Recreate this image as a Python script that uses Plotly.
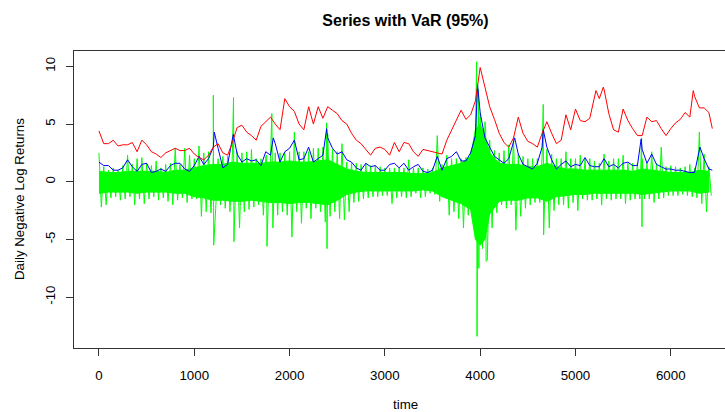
import plotly.graph_objects as go

grid_t = list(range(0, 6401, 50))

red_v = [
    4.4, 3.3, 3.3, 3.6, 3.1, 3.2, 3.2, 3.4, 2.6, 3.6,
    3.2, 2.6, 2.4, 2.1, 2.5, 2.7, 2.9, 2.7, 2.7, 2.9,
    2.4, 2.1, 1.9, 2.3, 3.0, 3.3, 2.5, 2.3, 3.4, 4.7,
    4.9, 4.3, 4.0, 3.6, 4.8, 5.2, 5.6, 5.0, 4.5, 7.2,
    6.5, 6.1, 5.0, 4.5, 6.5, 5.0, 6.5, 5.5, 6.5, 6.2,
    5.9, 5.3, 5.0, 4.2, 3.6, 3.3, 2.8, 2.3, 2.9, 3.0,
    2.8, 2.3, 3.4, 2.6, 3.4, 3.3, 2.6, 2.2, 2.8, 2.7,
    2.6, 2.5, 2.4, 3.6, 4.5, 5.4, 6.2, 5.4, 5.8, 7.0,
    9.9, 8.2, 6.5, 5.4, 4.2, 3.4, 3.0, 3.8, 5.6, 4.2,
    3.5, 3.3, 3.0, 4.2, 5.2, 4.2, 3.3, 3.6, 5.8, 4.5,
    6.3, 5.3, 5.2, 5.5, 7.4, 7.2, 8.0, 5.9, 4.5, 4.3,
    6.3, 5.3, 4.6, 4.0, 4.0, 5.6, 5.2, 5.3, 4.6, 4.0,
    4.6, 5.1, 5.4, 6.0, 5.6, 7.4, 6.4, 6.4, 6.0,
]
red_extra_t = [5215, 5292, 6236, 6436]
red_extra_v = [7.9, 8.2, 7.9, 4.6]

blue_v = [
    1.7, 1.4, 1.4, 1.0, 1.0, 1.2, 1.9, 1.3, 0.9, 1.5,
    1.6, 0.8, 0.9, 1.1, 0.9, 1.4, 1.6, 1.6, 1.1, 0.9,
    1.4, 2.2, 1.5, 2.0, 3.0, 2.9, 1.2, 1.5, 3.5, 2.4,
    1.7, 2.0, 1.8, 1.9, 1.4, 2.6, 2.3, 3.3, 1.7, 2.6,
    2.9, 3.6, 1.9, 2.0, 3.0, 1.7, 2.0, 2.3, 3.8, 2.9,
    2.4, 2.6, 1.9, 1.7, 1.2, 1.0, 1.6, 1.3, 1.4, 1.0,
    1.0, 1.5, 1.6, 1.2, 1.6, 1.0, 1.3, 1.5, 0.9, 0.8,
    1.0, 2.2, 1.0, 2.0, 2.2, 2.6, 1.8, 1.8, 2.5, 4.0,
    6.0, 3.8, 3.0, 2.2, 1.9, 1.6, 2.0, 3.5, 2.4, 1.5,
    1.3, 1.1, 1.6, 3.0, 3.0, 1.9, 1.1, 1.5, 1.8, 1.3,
    1.5, 1.4, 2.1, 1.4, 1.3, 1.3, 2.0, 1.3, 1.5, 1.2,
    1.6, 1.7, 1.4, 1.4, 2.8, 1.6, 2.4, 1.5, 1.3, 1.1,
    1.1, 1.0, 1.0, 0.9, 0.8, 0.8, 2.8, 2.0, 1.1,
]
blue_extra_t = [1210, 1409, 1829, 2389, 3973, 4362, 4662, 5689, 6306, 6436]
blue_extra_v = [4.3, 4.1, 3.8, 4.6, 8.4, 3.8, 4.5, 3.7, 3.0, 1.0]

# extremes of the green returns around each grid point
green_hi = [
    2.5, 1.3, 1.0, 1.2, 1.0, 1.4, 2.3, 1.5, 2.0, 2.1,
    1.6, 1.4, 1.8, 1.2, 1.5, 1.6, 2.9, 1.5, 2.9, 2.3,
    2.0, 3.1, 2.5, 2.6, 2.3, 2.0, 2.2, 2.2, 2.4, 2.6,
    2.5, 2.6, 2.8, 2.0, 2.0, 2.2, 2.0, 2.5, 2.5, 2.5,
    2.6, 4.3, 2.6, 2.6, 2.6, 2.9, 2.9, 3.0, 4.1, 2.8,
    2.6, 3.3, 1.7, 1.6, 1.6, 1.5, 1.6, 1.4, 1.4, 1.3,
    1.2, 1.2, 1.2, 1.2, 1.2, 1.9, 1.2, 1.2, 1.2, 1.1,
    1.2, 4.0, 1.5, 2.3, 2.0, 2.0, 2.0, 2.1, 2.6, 4.3,
    6.0, 5.2, 3.6, 2.7, 2.5, 2.7, 3.2, 3.9, 2.4, 2.2,
    2.0, 2.0, 2.0, 2.3, 2.8, 2.4, 2.0, 2.0, 2.6, 2.0,
    2.0, 2.3, 2.0, 2.0, 1.8, 1.6, 2.4, 1.8, 2.0, 2.0,
    2.3, 1.6, 1.6, 1.6, 2.0, 1.6, 2.6, 1.6, 3.0, 1.3,
    1.4, 1.3, 1.2, 1.3, 1.5, 1.2, 4.3, 2.4, 1.3,
]
green_lo = [
    -2.2, -2.0, -1.4, -1.3, -1.6, -1.5, -1.3, -2.0, -1.5, -1.9,
    -1.5, -1.3, -1.6, -1.4, -1.7, -2.0, -1.6, -1.4, -1.8, -1.5,
    -1.5, -3.0, -2.6, -2.7, -2.3, -2.0, -2.3, -2.6, -2.6, -4.0,
    -2.6, -2.4, -2.2, -2.0, -2.9, -2.0, -4.0, -2.9, -2.6, -2.9,
    -4.8, -2.6, -3.6, -2.3, -3.2, -2.3, -2.6, -3.5, -3.0, -2.6,
    -3.2, -3.3, -2.6, -1.8, -1.7, -1.5, -1.4, -1.3, -1.3, -1.2,
    -1.2, -1.9, -1.4, -1.3, -1.4, -1.3, -1.0, -1.4, -1.3, -1.0,
    -1.1, -1.7, -1.2, -2.9, -2.6, -3.2, -4.0, -2.9, -3.5, -4.6,
    -5.8, -6.8, -4.0, -2.7, -2.0, -2.3, -2.0, -4.2, -3.0, -2.3,
    -2.0, -1.8, -1.8, -2.0, -4.0, -2.5, -2.0, -2.0, -2.3, -1.8,
    -2.5, -1.5, -1.6, -1.6, -1.5, -2.0, -1.5, -1.6, -1.5, -1.5,
    -1.9, -1.6, -1.5, -1.5, -1.5, -1.5, -1.8, -1.5, -1.4, -1.2,
    -1.2, -1.2, -1.1, -1.2, -1.3, -1.4, -1.9, -2.6, -1.2,
]
spike_t = [1200, 1412, 1759, 1814, 2389, 3963, 3982, 4058, 4662, 5694]
spike_hi = [7.5, 7.3, 2.3, 5.9, 5.1, 10.4, 8.0, 4.5, 6.7, 3.8]
spike_lo = [-5.5, -5.2, -5.6, -2.5, -5.8, -13.4, -7.5, -6.9, -4.6, -3.9]

# solid (densely covered) core of the green band, every 100 observations
core_t = list(range(0, 6401, 100))
core_hi = [
    0.9, 0.8, 0.8, 0.9, 0.9, 0.9, 0.9, 0.8, 1.0, 1.0,
    1.2, 1.4, 1.5, 1.5, 1.7, 1.6, 1.6, 1.6, 1.7, 1.7,
    1.8, 1.7, 1.7, 1.8, 1.9, 1.5, 1.1, 0.9, 0.8, 0.8,
    0.8, 0.8, 0.8, 0.7, 0.7, 0.8, 1.2, 1.4, 1.6, 2.2,
    5.0, 2.5, 1.6, 1.5, 1.5, 1.3, 1.3, 1.6, 1.3, 1.1,
    1.1, 1.0, 1.0, 1.0, 1.0, 1.0, 0.9, 1.1, 1.0, 0.9,
    0.8, 0.8, 0.8, 1.0, 0.9,
]
core_lo = [
    -1.0, -0.9, -0.9, -0.9, -1.0, -0.9, -0.9, -0.9, -1.0, -1.0,
    -1.3, -1.4, -1.6, -1.6, -1.7, -1.7, -1.6, -1.7, -1.8, -1.8,
    -1.9, -1.8, -1.8, -1.9, -2.0, -1.6, -1.1, -0.9, -0.8, -0.8,
    -0.8, -0.8, -0.8, -0.8, -0.7, -0.8, -1.3, -1.6, -1.9, -2.4,
    -5.5, -2.8, -1.7, -1.6, -1.6, -1.4, -1.4, -1.7, -1.3, -1.2,
    -1.1, -1.1, -1.0, -1.0, -1.0, -1.0, -1.0, -1.1, -1.0, -0.9,
    -0.8, -0.8, -0.8, -1.0, -0.9,
]
core_extra_t = [3950, 4050]
core_extra_hi = [4.5, 4.0]
core_extra_lo = [-5.0, -5.0]

x_ticks = [0, 1000, 2000, 3000, 4000, 5000, 6000]
y_ticks = [-10, -5, 0, 5, 10]


def merged(ts, vs, ets, evs):
    pts = sorted(list(zip(ts, vs)) + list(zip(ets, evs)))
    return [p[0] for p in pts], [p[1] for p in pts]


red_x, red_y = merged(grid_t, red_v, red_extra_t, red_extra_v)
blue_x, blue_y = merged(grid_t, blue_v, blue_extra_t, blue_extra_v)
cu_x, cu_y = merged(core_t, core_hi, core_extra_t, core_extra_hi)
cl_x, cl_y = merged(core_t, core_lo, core_extra_t, core_extra_lo)

# green: dense oscillating series drawn as alternating high / low readings
g_pts = []
for t, h, l in zip(grid_t, green_hi, green_lo):
    g_pts.append((t, h))
    g_pts.append((t + 25, l))
for t, h, l in zip(spike_t, spike_hi, spike_lo):
    g_pts.append((t, h))
    g_pts.append((t + 4, l))
g_pts.sort()
green_x = [p[0] for p in g_pts]
green_y = [p[1] for p in g_pts]

band_x = cu_x + cl_x[::-1]
band_y = cu_y + cl_y[::-1]

FONT = "Liberation Sans, Arial, sans-serif"

fig = go.Figure()
fig.add_trace(go.Scatter(x=band_x, y=band_y, mode="lines", fill="toself",
                         fillcolor="#00FF00",
                         line=dict(color="#00FF00", width=1)))
fig.add_trace(go.Scatter(x=green_x, y=green_y, mode="lines",
                         line=dict(color="#00FF00", width=1)))
fig.add_trace(go.Scatter(x=blue_x, y=blue_y, mode="lines",
                         line=dict(color="#0000FF", width=1)))
fig.add_trace(go.Scatter(x=red_x, y=red_y, mode="lines",
                         line=dict(color="#FF0000", width=1)))

fig.update_layout(
    width=725, height=412,
    margin=dict(l=74, r=0, t=51, b=64),
    paper_bgcolor="white", plot_bgcolor="white",
    showlegend=False,
    font=dict(family=FONT, size=13.3, color="black"),
    title=dict(text="<b>Series with VaR (95%)</b>",
               font=dict(family=FONT, size=16, color="black"),
               x=405.5 / 725, xref="container", xanchor="center",
               y=1 - 20 / 412, yref="container", yanchor="middle"),
    xaxis=dict(range=[-262, 6569], tickvals=x_ticks,
               ticktext=[str(v) for v in x_ticks],
               ticks="outside", ticklen=7, tickcolor="#333",
               showline=True, linecolor="#333", linewidth=1, mirror=True,
               showgrid=False, zeroline=False, ticklabelstandoff=8,
               tickfont=dict(family=FONT, size=13.3, color="black")),
    yaxis=dict(range=[-14.41, 11.33], tickvals=y_ticks,
               ticktext=[str(v) for v in y_ticks],
               ticks="outside", ticklen=7, tickcolor="#333",
               showline=True, linecolor="#333", linewidth=1,
               showgrid=False, zeroline=False, tickangle=-90,
               ticklabelstandoff=6,
               tickfont=dict(family=FONT, size=13.3, color="black")),
    annotations=[
        dict(text="time", xref="paper", yref="paper",
             x=(405.5 - 74) / 651, y=(348 - 404) / 297,
             xanchor="center", yanchor="middle", showarrow=False,
             font=dict(family=FONT, size=13.3, color="black")),
        dict(text="Daily Negative Log Returns", xref="paper", yref="paper",
             x=(19.5 - 74) / 651, y=0.5, textangle=-90,
             xanchor="center", yanchor="middle", showarrow=False,
             font=dict(family=FONT, size=13.3, color="black")),
    ],
)

fig.write_html("out.html", config={"displayModeBar": False})
